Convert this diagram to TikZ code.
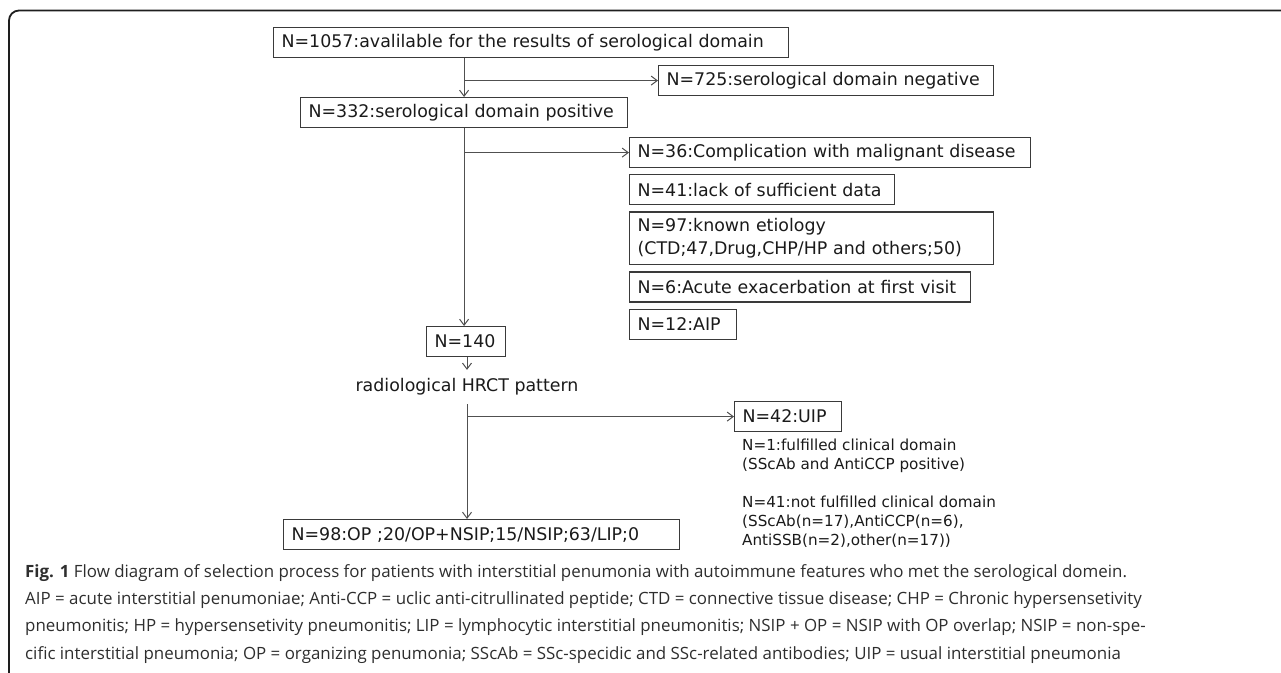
\documentclass[tikz,border=0pt]{standalone}
\usepackage{fontspec}
\setmainfont{DejaVu Sans}
\newfontfamily\captionfont{Open Sans}
\usetikzlibrary{arrows.meta,positioning}

\definecolor{boxline}{HTML}{3A3A3A}
\definecolor{linkline}{HTML}{505050}
\definecolor{frameline}{HTML}{1E1E1E}
\definecolor{boxtext}{HTML}{1A1A1A}
\definecolor{captext}{HTML}{2E2E2E}

\begin{document}
\begin{tikzpicture}[>={Straight Barb[length=6pt,width=9pt]},x=1pt,y=-1pt,
                    node distance=6pt]
  \tikzstyle{box}=[draw=boxline,line width=1.2pt,anchor=north west,align=left,
                   inner xsep=8pt,inner ysep=6.5pt,minimum height=30pt,text=boxtext,
                   font=\fontsize{17.4}{23}\selectfont]
  \tikzstyle{note}=[anchor=north west,align=left,inner sep=0pt,text=boxtext,
                    font=\fontsize{15.2}{19}\selectfont]
  \tikzstyle{link}=[->,draw=linkline,line width=1pt]

  \useasboundingbox (0,0) rectangle (1281,672);
  \draw[line width=1.8pt,draw=frameline,rounded corners=10pt]
    (9,674) -- (9,10.5) -- (1283,10.5);

  \node[box,text width=499pt] (all) at (273,27) {N=1057:avalilable for the results of serological domain};
  \node[box,text width=319pt] (neg) at (658,65) {N=725:serological domain negative};
  \node[box,text width=311pt] (pos) at (300,97) {N=332:serological domain positive};

  \node[box,text width=385pt] (mal) at (629,137) {N=36:Complication with malignant disease};
  \node[box,text width=249pt,below=of mal.south west,anchor=north west] (lack) {N=41:lack of sufficient data};
  \node[box,text width=348pt,below=of lack.south west,anchor=north west] (etio)
    {N=97:known etiology\\(CTD;47,Drug,CHP/HP and others;50)};
  \node[box,text width=325pt,below=of etio.south west,anchor=north west] (acute) {N=6:Acute exacerbation at first visit};
  \node[box,text width=91pt,below=of acute.south west,anchor=north west] (aip) {N=12:AIP};

  \node[box,text width=63pt] (n140) at (426,326) {N=140};
  \node[inner xsep=0pt,inner ysep=8.5pt,text=boxtext,font=\fontsize{17.4}{23}\selectfont]
    (hrct) at (467,387) {radiological HRCT pattern};

  \node[box,text width=91pt] (uip) at (734,401) {N=42:UIP};
  \node[note,below=7pt of uip.south west,anchor=north west,xshift=8pt] (uipnote)
    {N=1:fulfilled clinical domain\\(SScAb and AntiCCP positive)\\[19pt]
     N=41:not fulfilled clinical domain\\(SScAb(n=17),AntiCCP(n=6),\\AntiSSB(n=2),other(n=17))};

  \node[box,text width=380pt] (pat) at (283,519) {N=98:OP ;20/OP+NSIP;15/NSIP;63/LIP;0};

  % connectors
  \draw[link] (pos.north |- all.south) -- (pos.north);
  \draw[link] (pos.north |- neg.west) -- (neg.west);
  \draw[link] (pos.south) -- (pos.south |- n140.north);
  \draw[link] (pos.south |- mal.west) -- (mal.west);
  \draw[link] (hrct.north |- n140.south) -- (hrct.north);
  \draw[link] (hrct.south) -- (hrct.south |- pat.north);
  \draw[link] (hrct.south |- uip.west) -- (uip.west);

  \node[anchor=north west,align=left,inner sep=0pt,text=captext,
        font=\captionfont\fontsize{16.9}{27.3}\selectfont] (caption) at (25,564)
    {\textbf{Fig. 1} Flow diagram of selection process for patients with interstitial penumonia with autoimmune features who met the serological domein.\\
     AIP = acute interstitial penumoniae; Anti-CCP = uclic anti-citrullinated peptide; CTD = connective tissue disease; CHP = Chronic hypersensetivity\\
     pneumonitis; HP = hypersensetivity pneumonitis; LIP = lymphocytic interstitial pneumonitis; NSIP + OP = NSIP with OP overlap; NSIP = non-spe-\\
     cific interstitial pneumonia; OP = organizing penumonia; SScAb = SSc-specidic and SSc-related antibodies; UIP = usual interstitial pneumonia};
\end{tikzpicture}
\end{document}
